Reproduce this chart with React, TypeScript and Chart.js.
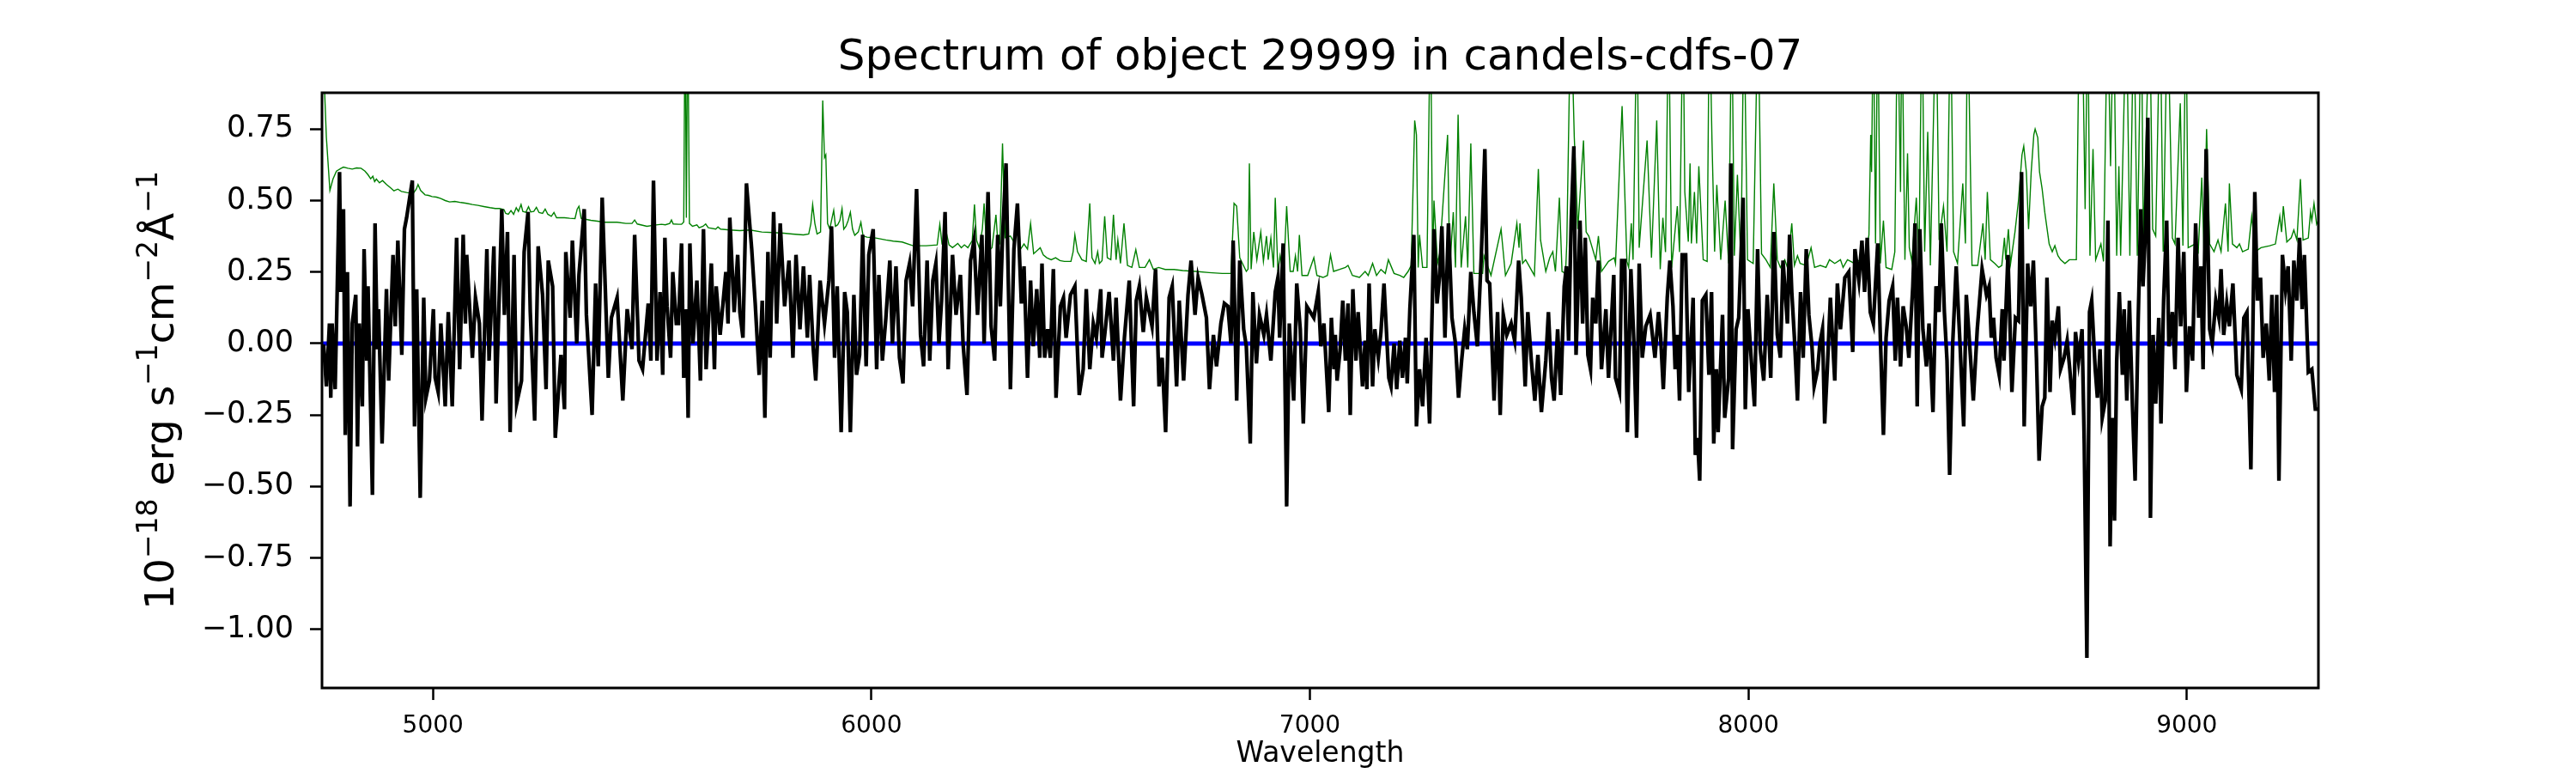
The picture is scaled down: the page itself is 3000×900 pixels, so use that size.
import { useEffect, useRef } from 'react';
import { Chart, registerables, type ChartConfiguration, type Plugin } from 'chart.js';

Chart.register(...registerables);

Chart.defaults.font.family = "'DejaVu Sans', sans-serif";
Chart.defaults.color = '#000';

const TITLE = 'Spectrum of object 29999 in candels-cdfs-07';
const X_LABEL = 'Wavelength';
// y label as [text, isSuperscript] runs: 10^-18 erg s^-1 cm^-2 Å^-1
const Y_LABEL: [string, boolean][] = [
  ['10', false], ['\u221218', true], [' erg s', false], ['\u22121', true],
  ['cm', false], ['\u22122', true], ['Å', false], ['\u22121', true],
];

const X_MIN = 4747;
const X_MAX = 9300;
const Y_MIN = -1.205;
const Y_MAX = 0.877;
const X_TICKS = [5000, 6000, 7000, 8000, 9000];
const Y_TICKS = [-1.0, -0.75, -0.5, -0.25, 0, 0.25, 0.5, 0.75];

// [wavelength, flux]
const SCIENCE: [number, number][] = [
  [4748,-0.01],[4751,-0.01],[4757,-0.15],[4764,0.07],[4767,-0.19],[4770,0.07],[4777,-0.16],[4782,0.21],[4787,0.60],[4790,0.18],
  [4796,0.47],[4800,-0.32],[4805,0.25],[4811,-0.57],[4816,0.07],[4824,0.17],[4828,-0.36],[4832,0.07],[4839,-0.22],[4843,0.33],
  [4849,-0.06],[4852,0.20],[4862,-0.53],[4868,0.42],[4873,-0.02],[4876,0.12],[4884,-0.35],[4894,0.19],[4899,-0.13],[4909,0.31],
  [4914,0.06],[4920,0.36],[4929,-0.04],[4935,0.40],[4940,0.44],[4945,0.49],[4953,0.57],[4958,-0.29],[4963,0.19],[4971,-0.54],
  [4979,0.16],[4984,-0.19],[4992,-0.13],[5001,0.12],[5005,-0.12],[5012,-0.17],[5018,0.07],[5028,-0.22],[5035,0.11],[5044,-0.22],
  [5054,0.37],[5061,-0.09],[5069,0.38],[5074,0.07],[5077,0.31],[5090,-0.05],[5097,0.16],[5106,0.07],[5112,-0.27],[5123,0.33],
  [5128,-0.06],[5139,0.34],[5144,-0.21],[5157,0.47],[5163,0.10],[5170,0.39],[5176,-0.31],[5185,0.31],[5191,-0.21],[5202,-0.13],
  [5208,0.32],[5217,0.46],[5222,0.11],[5232,-0.27],[5240,0.34],[5250,0.17],[5258,-0.16],[5263,0.29],[5273,0.20],[5279,-0.33],
  [5292,-0.04],[5300,-0.23],[5303,0.32],[5313,0.09],[5318,0.36],[5328,0.00],[5333,0.24],[5345,0.47],[5350,0.10],[5363,-0.25],
  [5371,0.21],[5377,-0.08],[5386,0.51],[5400,-0.12],[5407,0.09],[5420,0.16],[5433,-0.20],[5443,0.12],[5454,-0.02],[5460,0.38],
  [5470,-0.06],[5478,-0.09],[5491,0.14],[5497,-0.06],[5503,0.57],
  [5511,-0.06],[5518,0.18],[5524,-0.11],[5529,0.37],[5534,0.13],[5542,-0.05],[5547,0.25],[5555,0.07],[5560,0.07],[5567,0.35],
  [5572,-0.12],[5578,0.12],[5582,-0.26],[5586,0.35],[5593,0.00],[5602,0.22],[5610,-0.13],[5617,0.40],[5623,-0.09],[5635,0.28],
  [5642,-0.09],[5646,0.20],[5655,0.03],[5668,0.25],[5673,0.07],[5677,0.44],[5687,0.11],[5695,0.31],[5700,0.11],[5707,0.02],
  [5715,0.56],[5727,0.33],[5735,0.14],[5744,-0.11],[5751,0.15],[5757,-0.26],[5764,0.32],[5769,-0.05],[5777,0.46],[5784,0.07],
  [5792,0.42],[5802,0.13],[5812,0.29],[5821,-0.05],[5828,0.31],[5837,0.05],[5845,0.27],[5854,0.02],[5859,0.24],[5867,-0.01],
  [5873,-0.13],[5883,0.22],[5893,0.07],[5903,0.22],[5909,0.41],[5916,-0.05],[5922,0.20],[5931,-0.31],[5939,0.18],[5945,0.11],
  [5952,-0.31],[5960,0.17],[5966,-0.11],[5973,-0.04],[5980,0.38],[5988,-0.08],[5994,0.31],[6004,0.40],[6012,-0.09],[6017,0.24],
  [6025,-0.06],[6033,0.09],[6042,0.29],[6048,0.00],[6056,0.27],[6064,-0.05],[6072,-0.14],[6079,0.22],[6087,0.28],[6094,0.13],
  [6103,0.54],[6112,0.03],[6119,-0.08],[6127,0.29],[6133,-0.06],[6140,0.22],[6147,0.28],[6154,0.00],[6160,0.15],[6168,0.46],
  [6175,-0.09],[6185,0.31],[6193,0.10],[6203,0.24],[6209,0.00],[6218,-0.18],[6226,0.29],[6234,0.36],[6242,0.10],[6252,0.38],
  [6257,0.00],[6266,0.53],
  [6273,0.06],[6281,-0.06],[6288,0.38],[6294,0.13],[6299,0.37],[6307,0.63],[6317,-0.16],[6325,0.33],[6333,0.49],[6342,0.14],
  [6348,0.27],[6356,-0.12],[6363,0.22],[6369,-0.01],[6377,0.19],[6384,-0.05],[6389,0.28],[6395,-0.05],[6402,0.05],[6408,-0.05],
  [6415,0.26],[6421,-0.19],[6431,0.13],[6438,0.16],[6444,0.02],[6454,0.17],[6464,0.20],[6474,-0.18],[6483,-0.09],[6490,0.19],
  [6498,-0.09],[6506,0.07],[6513,0.02],[6523,0.19],[6526,-0.05],[6532,0.03],[6542,0.18],[6552,-0.06],[6558,0.16],[6568,-0.20],
  [6577,0.02],[6588,0.22],[6598,-0.22],[6604,0.15],[6611,0.20],[6620,0.04],[6627,0.16],[6640,0.06],[6648,0.26],[6656,-0.15],
  [6663,-0.05],[6671,-0.31],[6679,0.16],[6686,0.20],[6696,-0.15],[6702,0.15],[6712,-0.13],[6722,0.17],[6729,0.29],[6738,0.10],
  [6745,0.23],[6754,0.17],[6764,0.09],[6771,-0.16],[6780,0.03],[6787,-0.08],[6797,0.07],[6805,0.14],[6813,0.13],[6820,0.00],
  [6825,0.36],[6833,-0.20],[6840,0.29],[6849,0.05],[6855,-0.01],[6864,-0.35],[6870,0.18],[6878,-0.07],[6885,0.10],[6895,0.03],
  [6901,0.10],[6911,-0.06],[6921,0.18],[6927,0.23],[6931,0.02],[6939,0.35],[6947,-0.57],[6953,0.07],[6963,-0.20],[6970,0.21],
  [6978,0.05],[6985,-0.28],[6993,0.13],[7001,0.11],[7009,0.09],[7019,0.18],[7025,-0.01],[7032,0.07],
  [7043,-0.24],[7049,0.09],[7055,-0.09],[7058,0.03],[7062,-0.13],[7069,-0.02],[7075,0.15],[7081,-0.06],[7087,0.14],[7092,-0.25],
  [7098,0.19],[7105,-0.06],[7110,0.11],[7120,-0.15],[7126,0.01],[7130,-0.16],[7135,0.21],[7143,-0.15],[7148,0.05],[7156,-0.05],
  [7162,0.04],[7169,0.21],[7180,-0.12],[7185,-0.15],[7192,0.00],[7198,-0.16],[7205,0.01],[7211,-0.12],[7218,0.02],[7222,-0.14],
  [7228,0.12],[7237,0.38],[7243,-0.29],[7250,-0.09],[7257,-0.22],[7265,0.02],[7273,-0.28],[7283,0.40],[7290,0.14],[7296,0.24],
  [7301,0.41],[7308,0.02],[7316,0.42],[7324,0.09],[7332,0.00],[7339,-0.19],[7346,-0.06],[7353,0.05],[7359,-0.02],[7367,0.25],
  [7374,0.11],[7382,-0.01],[7391,0.31],[7399,0.68],[7404,0.22],[7410,0.21],[7420,-0.20],[7428,0.11],[7434,-0.25],[7441,0.10],
  [7449,0.03],[7459,0.07],[7467,0.01],[7476,0.29],[7482,0.16],[7491,-0.15],[7497,0.11],[7505,-0.06],[7513,-0.20],[7520,-0.04],
  [7528,-0.24],[7538,-0.06],[7544,0.11],[7551,-0.12],[7557,-0.20],[7565,0.05],[7572,-0.18],[7580,0.20],[7585,0.27],[7590,0.01],
  [7596,0.43],[7602,0.69],[7607,-0.04],[7616,0.43],[7622,0.07],[7628,0.37],[7634,-0.04],[7640,-0.09],[7645,0.16],[7652,0.07],
  [7658,0.29],[7665,-0.09],[7675,0.12],[7681,-0.12],[7693,0.24],[7697,-0.12],[7706,-0.17],[7711,0.29],[7718,0.29],[7724,-0.31],
  [7732,0.26],[7739,0.00],[7745,-0.33],[7751,0.28],[7758,-0.05],[7766,0.06],[7776,0.10],[7787,-0.05],
  [7795,0.11],[7800,0.02],[7806,-0.16],[7815,0.16],[7821,0.29],[7828,0.13],[7833,-0.09],[7838,0.03],[7843,-0.20],[7849,0.31],
  [7857,0.31],[7864,-0.17],[7874,0.16],[7879,-0.39],[7884,-0.33],[7889,-0.48],[7895,0.15],[7903,0.17],[7910,-0.11],[7916,0.18],
  [7921,-0.35],[7927,-0.09],[7931,-0.31],[7937,-0.06],[7941,0.10],[7946,-0.26],[7955,-0.12],[7960,0.63],[7964,-0.37],[7972,0.05],
  [7978,0.09],[7988,0.51],[7993,-0.23],[7999,0.12],[8008,-0.09],[8014,-0.22],[8021,0.33],[8027,-0.02],[8035,-0.13],[8043,0.17],
  [8051,-0.12],[8058,0.39],[8066,0.03],[8073,-0.05],[8079,0.29],[8089,0.07],[8094,0.38],[8099,0.18],[8105,0.02],[8112,-0.20],
  [8119,0.18],[8125,-0.05],[8132,0.33],[8138,0.10],[8145,-0.01],[8150,-0.15],[8158,-0.09],[8163,0.00],[8169,0.05],[8174,-0.28],
  [8180,-0.09],[8187,0.16],[8197,-0.13],[8203,0.21],[8210,0.05],[8220,0.23],[8229,0.25],[8238,-0.03],[8243,0.33],[8252,0.22],
  [8259,0.36],[8265,0.18],[8271,0.37],[8278,0.11],[8285,0.07],[8295,0.35],[8301,0.02],[8308,-0.32],[8314,0.02],[8321,0.15],
  [8329,0.20],[8335,-0.06],[8340,0.16],[8347,-0.08],[8353,0.13],[8360,0.06],[8366,-0.05],[8375,0.20],[8380,0.42],[8385,-0.22],
  [8391,0.40],[8398,0.05],[8406,-0.08],[8412,0.07],[8421,-0.24],[8428,0.20],[8435,0.11],[8440,0.42],[8447,0.11],[8453,-0.06],
  [8459,-0.46],[8466,0.00],[8474,0.27],[8482,0.02],[8491,-0.29],[8497,0.17],[8504,0.01],[8513,-0.20],[8522,0.05],[8533,0.26],
  [8543,0.17],[8549,0.20],[8554,0.02],[8559,0.09],[8565,-0.05],[8572,-0.11],[8579,0.12],[8583,-0.06],[8592,0.31],[8601,-0.17],
  [8609,0.09],[8616,0.08],[8623,0.60],[8629,-0.29],[8637,0.28],[8644,0.13],[8650,0.29],[8657,-0.05],[8663,-0.41],[8670,-0.22],
  [8676,-0.19],[8681,0.23],[8688,-0.17],[8693,0.08],[8699,0.02],[8707,0.13],[8712,-0.09],[8720,-0.05],[8727,0.01],[8733,-0.09],
  [8742,-0.25],[8746,0.04],[8753,-0.06],[8761,0.05],[8766,-0.35],[8772,-1.10],[8778,0.11],[8783,0.15],[8791,-0.09],[8796,-0.19],
  [8802,-0.02],[8807,-0.26],[8814,-0.20],[8820,0.43],[8825,-0.71],[8830,-0.26],[8835,-0.62],[8840,-0.06],[8846,0.18],[8853,-0.11],
  [8857,0.12],[8863,-0.20],[8869,0.15],[8876,-0.22],[8882,-0.48],[8889,0.08],[8895,0.47],[8900,0.20],[8905,0.37],[8911,0.79],
  [8917,-0.61],[8923,0.03],[8929,-0.21],[8936,0.09],[8941,-0.28],[8947,0.15],[8954,0.43],[8959,-0.01],[8967,0.11],[8973,-0.09],
  [8980,0.37],[8986,0.06],[8993,0.32],[8999,-0.17],[9006,0.06],[9013,-0.06],[9020,0.42],[9027,0.09],[9032,0.27],[9037,-0.09],
  [9044,0.68],[9052,0.05],[9058,0.00],[9066,0.15],[9073,0.09],[9078,0.26],[9084,0.03],[9091,0.14],[9097,0.06],[9105,0.21],
  [9114,-0.11],[9124,-0.16],[9130,0.09],[9137,0.11],[9146,-0.44],[9155,0.53],[9161,0.15],[9168,0.23],[9174,-0.05],[9181,0.07],
  [9188,-0.13],[9194,0.17],[9200,-0.17],[9205,0.17],[9210,-0.48],[9218,0.31],[9225,0.19],[9231,0.27],[9238,-0.06],[9244,0.29],
  [9251,0.15],[9257,0.37],[9263,0.12],[9268,0.31],[9277,-0.10],[9285,-0.09],[9293,-0.23],[9300,-0.23],
];

// noise spectrum; sky-line peaks run off the top of the axes
const NOISE: [number, number][] = [
  [4748,1.2],[4752,0.92],[4757,0.72],[4765,0.535],[4772,0.575],[4780,0.603],[4790,0.612],[4796,0.617],[4806,0.613],[4816,0.610],
  [4826,0.614],[4836,0.613],[4845,0.603],[4852,0.590],[4858,0.576],[4863,0.585],[4867,0.566],[4871,0.575],[4878,0.562],[4885,0.570],
  [4894,0.556],[4903,0.545],[4911,0.534],[4920,0.540],[4928,0.532],[4940,0.528],[4955,0.525],[4962,0.540],[4966,0.556],[4972,0.535],
  [4982,0.520],[4990,0.518],[4998,0.514],[5008,0.512],[5018,0.507],[5028,0.500],[5038,0.495],[5050,0.497],[5064,0.493],[5077,0.490],
  [5090,0.486],[5103,0.483],[5116,0.479],[5130,0.475],[5142,0.472],[5152,0.472],[5162,0.468],[5166,0.455],[5172,0.452],[5178,0.465],
  [5184,0.452],[5190,0.475],[5195,0.462],[5201,0.486],[5205,0.462],[5212,0.459],[5218,0.478],[5223,0.460],[5230,0.462],[5236,0.476],
  [5242,0.458],[5250,0.455],[5256,0.470],[5262,0.452],[5270,0.445],[5276,0.458],[5282,0.440],[5290,0.440],[5300,0.440],[5312,0.438],
  [5324,0.437],[5329,0.470],[5333,0.480],[5338,0.438],[5350,0.434],[5360,0.431],[5375,0.428],[5390,0.424],[5405,0.424],[5420,0.424],
  [5440,0.420],[5454,0.420],[5460,0.432],[5466,0.418],[5488,0.410],[5505,0.414],[5521,0.417],
  [5530,0.415],[5540,0.420],[5544,0.432],[5548,0.418],[5560,0.417],[5567,0.417],[5572,0.425],[5575,1.2],[5578,0.44],[5581,1.2],
  [5585,0.420],[5592,0.410],[5602,0.415],[5607,0.405],[5616,0.410],[5622,0.418],[5628,0.405],[5645,0.400],[5650,0.408],[5656,0.400],
  [5677,0.397],[5700,0.395],[5723,0.397],[5750,0.390],[5775,0.388],[5800,0.386],[5820,0.383],[5845,0.380],[5857,0.383],[5862,0.420],
  [5866,0.486],[5871,0.420],[5876,0.383],[5884,0.390],[5889,0.85],[5893,0.65],[5896,0.66],[5900,0.42],[5905,0.400],[5909,0.430],
  [5914,0.466],[5918,0.410],[5923,0.415],[5928,0.430],[5933,0.472],[5937,0.400],[5942,0.410],[5947,0.430],[5952,0.459],[5957,0.400],
  [5962,0.378],[5970,0.390],[5976,0.424],[5981,0.376],[5990,0.372],[6010,0.369],[6033,0.362],[6050,0.358],[6070,0.355],[6095,0.342],
  [6125,0.342],[6150,0.345],[6156,0.417],[6161,0.348],[6166,0.340],[6172,0.380],[6177,0.345],[6185,0.335],[6197,0.350],[6205,0.335],
  [6212,0.345],[6220,0.335],[6230,0.360],[6235,0.486],[6240,0.360],[6246,0.335],[6253,0.400],[6257,0.490],[6262,0.360],[6268,0.325],
  [6275,0.335],[6284,0.450],[6288,0.360],[6293,0.350],[6299,0.700],[6305,0.370],[6317,0.376],[6323,0.360],[6327,0.369],[6333,0.480],
  [6340,0.330],[6348,0.348],[6356,0.330],[6363,0.420],[6370,0.314],[6385,0.335],[6392,0.310],[6400,0.300],[6410,0.293],[6420,0.300],
  [6430,0.290],[6440,0.287],[6455,0.287],[6460,0.321],[6464,0.380],[6470,0.321],[6480,0.293],[6490,0.287],[6498,0.490],[6503,0.300],
  [6510,0.280],[6516,0.321],[6520,0.280],[6526,0.290],[6532,0.445],[6538,0.300],[6546,0.293],[6552,0.450],[6558,0.293],[6562,0.362],
  [6568,0.280],[6576,0.420],[6584,0.273],[6594,0.266],[6603,0.328],[6611,0.266],[6624,0.266],[6634,0.293],[6643,0.259],[6655,0.266],
  [6670,0.259],[6690,0.259],[6710,0.255],[6740,0.252],[6770,0.248],[6800,0.245],[6820,0.245],[6827,0.490],[6833,0.480],[6840,0.300],
  [6855,0.252],[6859,0.260],[6862,0.630],[6866,0.260],[6872,0.390],[6879,0.293],[6888,0.390],[6894,0.287],[6901,0.376],[6905,0.293],
  [6911,0.369],[6917,0.266],[6921,0.510],[6927,0.252],[6932,0.307],[6940,0.238],[6947,0.480],[6955,0.252],[6962,0.252],[6967,0.307],
  [6972,0.252],[6976,0.380],[6982,0.238],[6995,0.238],[7009,0.300],[7016,0.238],[7030,0.231],[7040,0.238],[7047,0.310],[7054,0.252],
  [7068,0.259],[7081,0.266],[7087,0.273],[7097,0.238],[7113,0.231],[7126,0.252],[7133,0.238],[7143,0.280],[7152,0.238],[7162,0.259],
  [7172,0.245],[7179,0.293],[7192,0.245],[7205,0.238],[7214,0.231],[7224,0.252],[7231,0.273],[7239,0.78],[7243,0.73],[7247,0.266],
  [7250,0.38],[7257,0.266],[7267,0.266],[7275,1.2],[7280,0.266],[7283,0.50],[7291,0.280],[7296,0.314],[7314,0.73],[7319,0.259],
  [7327,0.459],[7332,0.266],[7338,0.80],[7345,0.266],[7355,0.445],[7360,0.266],[7367,0.70],[7374,0.245],[7394,0.245],[7397,0.307],
  [7413,0.238],[7436,0.40],[7446,0.238],[7459,0.280],[7472,0.42],[7477,0.335],[7479,0.42],[7485,0.280],[7492,0.293],[7512,0.238],
  [7521,0.61],[7526,0.362],[7538,0.252],[7547,0.300],[7554,0.321],[7560,0.252],[7569,0.51],[7575,0.252],[7583,0.245],[7586,0.355],
  [7595,1.2],[7603,0.72],[7607,0.57],[7611,0.40],[7624,0.71],[7630,0.390],[7636,0.376],[7652,0.293],[7658,0.376],[7665,0.252],
  [7681,0.287],[7694,0.300],[7697,0.280],[7712,0.83],[7723,0.287],[7727,0.266],[7733,0.42],[7737,0.293],[7746,1.2],[7751,0.335],
  [7769,0.71],[7779,0.300],[7791,0.78],[7799,0.26],[7805,0.44],[7811,0.32],[7818,1.2],[7825,0.265],[7838,0.48],[7843,0.32],
  [7851,1.2],[7855,0.53],[7863,0.356],[7867,0.63],[7870,0.35],[7877,0.53],[7882,0.35],[7887,0.62],[7897,0.293],[7906,0.287],
  [7911,1.2],[7917,0.71],[7923,0.321],[7928,0.555],[7937,0.293],[7947,0.50],[7955,0.280],[7962,1.2],[7968,0.307],[7975,0.59],
  [7983,0.287],[7990,1.2],[7998,0.293],[8011,0.280],[8022,1.2],[8030,0.314],[8040,0.293],[8050,0.266],[8058,0.56],[8066,0.293],
  [8073,0.266],[8083,0.293],[8089,0.266],[8099,0.42],[8105,0.273],[8112,0.307],[8118,0.280],[8132,0.273],[8143,0.335],[8151,0.266],
  [8164,0.273],[8177,0.266],[8185,0.293],[8197,0.280],[8210,0.293],[8216,0.266],[8226,0.293],[8242,0.280],[8255,0.293],[8265,0.280],
  [8275,0.38],[8279,0.73],[8281,0.60],[8285,1.2],[8290,0.35],[8295,1.2],[8301,0.280],[8308,0.43],[8314,0.266],[8327,0.259],
  [8334,0.321],[8340,1.2],[8347,0.53],[8350,1.2],[8357,0.293],[8363,0.665],[8367,0.335],[8373,0.287],[8383,0.51],[8389,0.293],
  [8396,1.2],[8402,0.321],[8409,0.74],[8415,0.273],[8428,1.2],[8435,0.362],[8445,0.48],[8453,0.321],[8461,1.2],[8468,0.321],
  [8477,0.280],[8489,0.56],[8495,0.35],[8500,1.2],[8510,0.273],[8523,0.273],[8535,0.42],[8540,0.293],[8545,0.53],[8552,0.293],
  [8562,0.280],[8571,0.266],[8578,0.273],[8584,0.37],[8587,0.293],[8593,0.40],[8598,0.28],[8608,0.39],[8616,0.50],[8624,0.66],
  [8628,0.69],[8634,0.60],[8639,0.40],[8645,0.60],[8651,0.73],[8654,0.75],[8660,0.72],[8664,0.60],[8670,0.54],[8676,0.459],
  [8686,0.348],[8693,0.321],[8699,0.342],[8706,0.307],[8712,0.293],[8722,0.280],[8732,0.293],[8748,0.293],[8755,1.2],[8761,1.2],
  [8768,0.47],[8774,1.2],[8779,0.307],[8786,0.68],[8792,0.293],[8804,0.348],[8810,0.287],[8819,1.2],[8826,0.62],[8833,1.2],
  [8840,0.307],[8845,0.62],[8849,0.307],[8862,1.2],[8870,0.307],[8879,1.2],[8887,0.307],[8896,1.2],[8901,0.348],[8915,1.2],
  [8922,0.40],[8929,0.376],[8939,1.2],[8946,0.321],[8956,1.2],[8967,0.369],[8973,0.348],[8985,0.84],[8991,0.342],[8998,1.2],
  [9003,0.335],[9019,0.348],[9026,0.321],[9034,0.58],[9039,0.328],[9045,0.75],[9052,0.348],[9062,0.321],[9071,0.362],[9078,0.321],
  [9088,0.49],[9094,0.321],[9097,0.56],[9104,0.348],[9114,0.335],[9120,0.348],[9127,0.321],[9140,0.330],[9148,0.445],[9156,0.321],
  [9169,0.335],[9189,0.342],[9202,0.348],[9212,0.445],[9216,0.390],[9220,0.48],[9228,0.355],[9238,0.370],[9244,0.397],[9251,0.362],
  [9259,0.575],[9265,0.362],[9277,0.369],[9282,0.46],[9285,0.43],[9290,0.49],[9296,0.417],[9300,0.43],
];

const MODEL: [number, number][] = [[4748, 0], [9300, 0]];

const toPoints = (rows: [number, number][]) => rows.map(([x, y]) => ({ x, y }));

const fmtY = (v: number) => (v < 0 ? '\u2212' : '') + Math.abs(v).toFixed(2);

const frame: Plugin = {
  id: 'frame',
  afterDatasetsDraw(chart) {
    const { ctx, chartArea: a } = chart;
    ctx.save();
    ctx.strokeStyle = '#000';
    ctx.lineWidth = 3;
    ctx.strokeRect(a.left, a.top, a.right - a.left, a.bottom - a.top);
    ctx.restore();
  },
};

// rotated y label with real superscripts, like matplotlib mathtext
const yLabel: Plugin = {
  id: 'yLabel',
  afterDraw(chart) {
    const { ctx, chartArea: a } = chart;
    const base = "47px 'DejaVu Sans', sans-serif";
    const sup = "33px 'DejaVu Sans', sans-serif";
    ctx.save();
    ctx.fillStyle = '#000';
    ctx.textBaseline = 'alphabetic';
    ctx.textAlign = 'left';
    let total = 0;
    const widths = Y_LABEL.map(([t, s]) => {
      ctx.font = s ? sup : base;
      const w = ctx.measureText(t).width;
      total += w;
      return w;
    });
    ctx.translate(a.left - 173, (a.top + a.bottom) / 2);
    ctx.rotate(-Math.PI / 2);
    let x = -total / 2;
    Y_LABEL.forEach(([t, s], i) => {
      ctx.font = s ? sup : base;
      ctx.fillText(t, x, s ? -19 : 0);
      x += widths[i];
    });
    ctx.restore();
  },
};

const tickGrid = {
  drawOnChartArea: false,
  drawTicks: true,
  tickLength: 14,
  tickWidth: 2.5,
  tickColor: '#000',
};

const config: ChartConfiguration<'line'> = {
  type: 'line',
  data: {
    datasets: [
      { data: toPoints(SCIENCE), borderColor: '#000000', borderWidth: 4.3, pointRadius: 0, tension: 0, clip: 0 },
      { data: toPoints(MODEL), borderColor: '#0000ff', borderWidth: 5, pointRadius: 0, tension: 0, clip: 0 },
      { data: toPoints(NOISE), borderColor: '#008000', borderWidth: 1.4, pointRadius: 0, tension: 0, clip: 0 },
    ],
  },
  options: {
    responsive: false,
    animation: false,
    devicePixelRatio: 1,
    events: [],
    layout: { padding: { left: 0, right: 300, top: 0, bottom: 0 } },
    plugins: {
      legend: { display: false },
      tooltip: { enabled: false },
      title: {
        display: true,
        fullSize: false,
        text: TITLE,
        color: '#000',
        font: { size: 50, weight: 'normal' },
        padding: { top: 38, bottom: 10 },
      },
    },
    scales: {
      x: {
        type: 'linear',
        min: X_MIN,
        max: X_MAX,
        afterFit: (s) => { s.height = 99; },
        afterBuildTicks: (s) => { s.ticks = X_TICKS.map((value) => ({ value })); },
        ticks: { font: { size: 28 }, color: '#000', padding: 14, maxRotation: 0, autoSkip: false, callback: (v) => String(v) },
        grid: tickGrid,
        border: { display: false },
        title: { display: true, text: X_LABEL, color: '#000', font: { size: 33 }, padding: { top: 0, bottom: 2 } },
      },
      y: {
        type: 'linear',
        min: Y_MIN,
        max: Y_MAX,
        afterFit: (s) => { s.width = 375; },
        afterBuildTicks: (s) => { s.ticks = Y_TICKS.map((value) => ({ value })); },
        ticks: { font: { size: 35 }, color: '#000', padding: 19, callback: (v) => fmtY(Number(v)) },
        grid: tickGrid,
        border: { display: false },
      },
    },
  },
  plugins: [frame, yLabel],
};

export default function App() {
  const canvasRef = useRef<HTMLCanvasElement>(null);

  useEffect(() => {
    document.body.style.margin = '0';
    if (!canvasRef.current) return;
    const chart = new Chart(canvasRef.current, config);
    return () => chart.destroy();
  }, []);

  return (
    <div style={{ width: 3000, height: 900, background: '#fff' }}>
      <canvas ref={canvasRef} width={3000} height={900} style={{ display: 'block' }} />
    </div>
  );
}
